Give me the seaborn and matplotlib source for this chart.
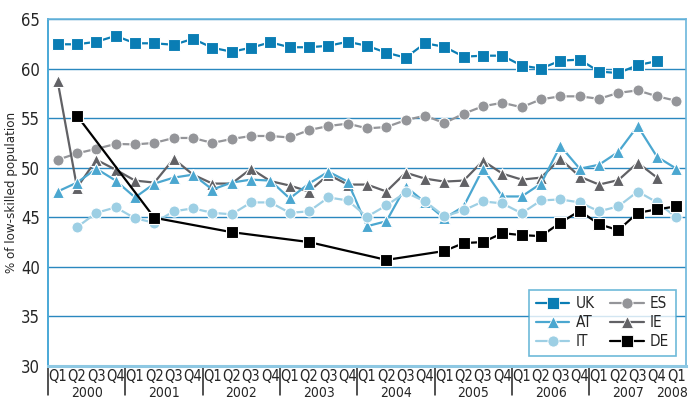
import matplotlib
matplotlib.use("Agg")
import matplotlib.pyplot as plt
import matplotlib.transforms as mtransforms
from matplotlib.lines import Line2D
import seaborn as sns
import pandas as pd
import numpy as np

nan = np.nan
years = ["2000", "2001", "2002", "2003", "2004", "2005", "2006", "2007", "2008"]
quarters = ["Q1", "Q2", "Q3", "Q4"] * 8 + ["Q1"]

uk = [62.45, 62.45, 62.7, 63.3, 62.55, 62.55, 62.4, 63.0, 62.1, 61.7, 62.1, 62.65, 62.15, 62.15, 62.3, 62.7,
      62.3, 61.6, 61.1, 62.55, 62.2, 61.2, 61.3, 61.3, 60.3, 60.0, 60.8, 60.9, 59.7, 59.55, 60.35, 60.75, nan]
es = [50.8, 51.45, 51.9, 52.4, 52.35, 52.5, 53.0, 53.0, 52.5, 52.9, 53.2, 53.2, 53.05, 53.8, 54.2, 54.45,
      53.97, 54.1, 54.8, 55.25, 54.5, 55.45, 56.2, 56.55, 56.1, 56.9, 57.2, 57.2, 56.95, 57.55, 57.8, 57.2, 56.75]
at = [47.6, 48.5, 49.9, 48.7, 47.0, 48.4, 49.0, 49.3, 47.8, 48.5, 48.8, 48.7, 46.9, 48.4, 49.6, 48.6,
      44.1, 44.6, 48.1, 46.5, 44.9, 46.1, 49.9, 47.1, 47.1, 48.4, 52.2, 49.9, 50.3, 51.6, 54.2, 51.1, 49.9]
ie = [58.7, 48.0, 50.8, 49.8, 48.7, 48.5, 50.9, 49.3, 48.4, 48.4, 49.9, 48.65, 48.2, 47.6, 49.3, 48.3,
      48.3, 47.6, 49.5, 48.9, 48.6, 48.7, 50.7, 49.4, 48.8, 49.0, 50.9, 49.1, 48.3, 48.75, 50.5, 49.0, nan]
it = [nan, 44.0, 45.45, 46.0, 44.9, 44.45, 45.6, 45.9, 45.45, 45.3, 46.5, 46.5, 45.45, 45.6, 47.0, 46.7,
      45.05, 46.2, 47.5, 46.6, 45.1, 45.7, 46.6, 46.4, 45.4, 46.7, 46.8, 46.5, 45.6, 46.1, 47.6, 46.5, 45.0]
de = [nan, 55.25, nan, nan, nan, 44.95, nan, nan, nan, 43.5, nan, nan, nan, 42.5, nan, nan,
      nan, 40.7, nan, nan, 41.6, 42.4, 42.5, 43.4, 43.2, 43.1, 44.45, 45.65, 44.3, 43.7, 45.45, 45.8, 46.1]

series = {"UK": uk, "AT": at, "IT": it, "ES": es, "IE": ie, "DE": de}
colors = {"UK": "#0a7db4", "AT": "#4ba7d0", "IT": "#9dcfe4",
          "ES": "#949599", "IE": "#616165", "DE": "#000000"}
markers = {"UK": "s", "AT": "^", "IT": "o", "ES": "o", "IE": "^", "DE": "s"}

rows = []
for name, vals in series.items():
    for i, v in enumerate(vals):
        if not np.isnan(v):
            rows.append({"t": i, "value": v, "country": name})
df = pd.DataFrame(rows)

sns.set_theme(style="white")
plt.rcParams["font.family"] = ["DejaVu Sans"]
plt.rcParams["font.stretch"] = "condensed"

fig = plt.figure(figsize=(6.89, 4.0), dpi=100)
ax = fig.add_axes([0.0697, 0.085, 0.926, 0.8675])

# draw order: back to front
for name in ["ES", "IE", "AT", "IT", "DE", "UK"]:
    sub = df[df["country"] == name]
    sns.lineplot(data=sub, x="t", y="value", ax=ax, color=colors[name], marker=markers[name],
                 markersize=8, markeredgecolor="white", markeredgewidth=0.8,
                 linewidth=1.6, legend=False, zorder=3)

ax.set_xlim(-0.5, 32.5)
ax.set_ylim(30, 65)
ax.set_yticks(range(30, 66, 5))
ax.yaxis.grid(True, color="#2a88bf", linewidth=1)
ax.set_axisbelow(True)
ax.tick_params(axis="y", length=0, labelsize=12, pad=6)
ax.set_ylabel("% of low-skilled population", fontsize=9.5, labelpad=2)
ax.set_xlabel("")

ax.set_xticks(range(len(quarters)))
ax.set_xticklabels(quarters, fontsize=10.5)
ax.set_xticks(np.arange(0.5, 32, 1), minor=True)
ax.tick_params(axis="x", which="major", length=0, pad=2)
ax.tick_params(axis="x", which="minor", length=4, width=1, color="#333333")

trans = mtransforms.blended_transform_factory(ax.transData, ax.transAxes)
for k in range(8):
    ax.plot([k * 4 - 0.5, k * 4 - 0.5], [0, -0.085], color="#222222", lw=1.1,
            transform=trans, clip_on=False)
for k, yr in enumerate(years[:-1]):
    ax.text(k * 4 + 1.5, -0.057, yr, transform=trans, ha="center", va="top", fontsize=10)
ax.text(32.6, -0.057, years[-1], transform=trans, ha="right", va="top", fontsize=10)

for side in ["top", "right"]:
    ax.spines[side].set_color("#6bb6dc")
    ax.spines[side].set_linewidth(1.2)
ax.spines["left"].set_color("#4aa8d6")
ax.spines["left"].set_linewidth(1.4)
ax.spines["bottom"].set_color("#8ec8e3")
ax.spines["bottom"].set_linewidth(2.2)

handles = []
labels = []
for name in ["UK", "AT", "IT", "ES", "IE", "DE"]:
    handles.append(Line2D([], [], color=colors[name], marker=markers[name], markersize=8,
                          markeredgecolor="white", markeredgewidth=0.6, linewidth=1.6))
    labels.append(name)
leg = ax.legend(handles, labels, ncol=2, loc="lower right", bbox_to_anchor=(0.984, 0.029),
                fontsize=11, frameon=True, fancybox=False, handlelength=2.2,
                columnspacing=1.0, handletextpad=0.4, labelspacing=0.25, borderpad=0.45,
                borderaxespad=0)
leg.get_frame().set_edgecolor("#4aa8d0")
leg.get_frame().set_linewidth(1.2)
leg.set_zorder(5)

fig.savefig("out.png", dpi=100)
